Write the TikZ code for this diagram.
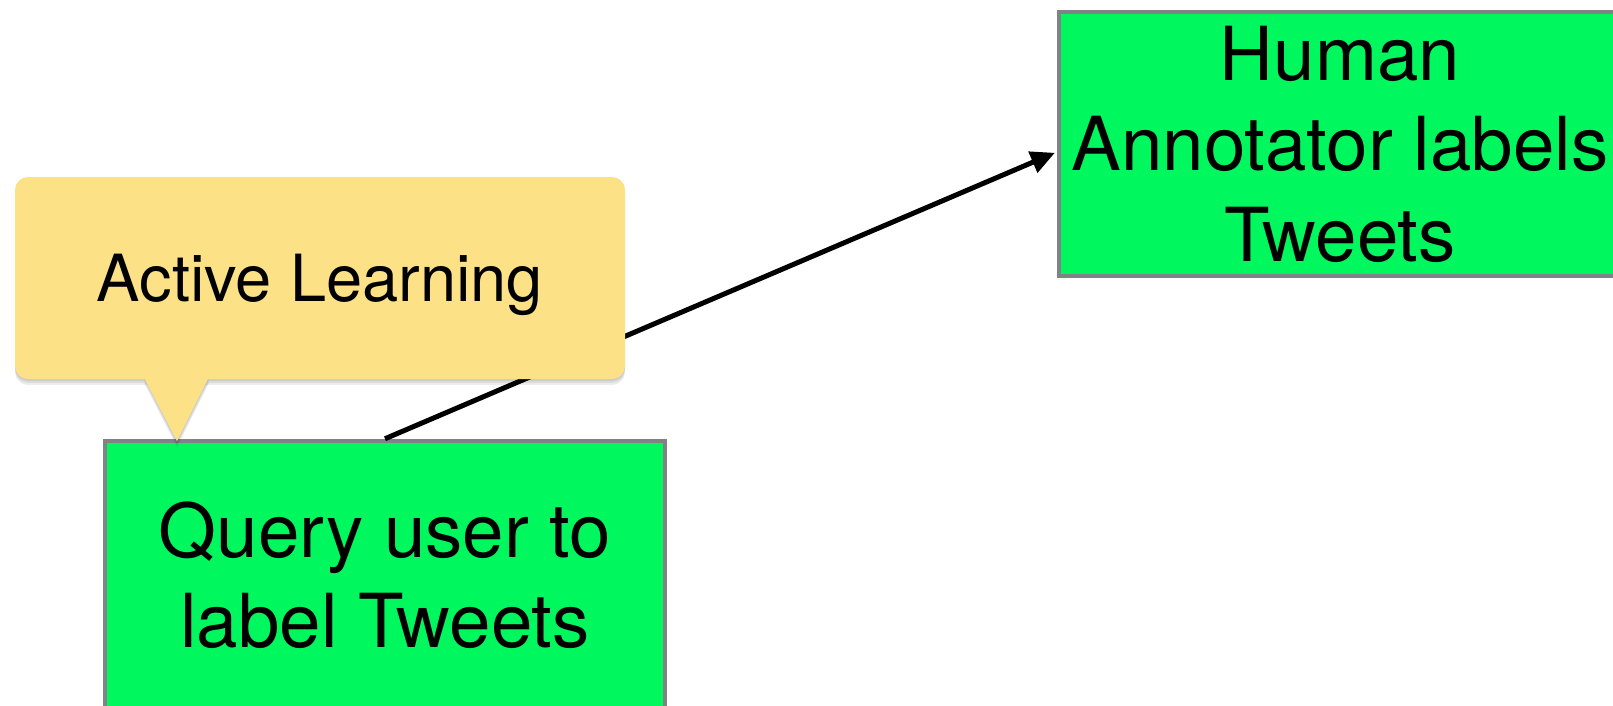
\documentclass[tikz,border=0pt]{standalone}
\usepackage{fontspec}
\setmainfont{TeX Gyre Heros}
\usetikzlibrary{arrows.meta,calc}
\definecolor{boxgreen}{RGB}{0,248,94}
\definecolor{boxgray}{RGB}{128,131,134}
\definecolor{noteyellow}{RGB}{252,225,134}
\begin{document}
\begin{tikzpicture}[x=1pt,y=-1pt,
  stepbox/.style={draw=boxgray,line width=4.5pt,fill=boxgreen,align=center,
    inner sep=0pt,font=\fontsize{74.5}{90.5}\selectfont},
  note/.style={fill=noteyellow,rounded corners=13pt,inner sep=0pt,
    font=\fontsize{65}{78}\selectfont,text height=47pt,text depth=0pt},
  notetail/.style={fill=noteyellow},
  noteshadow/.style={fill=black,opacity=0.07},
  link/.style={line width=5pt,-{Triangle[length=24pt,width=22pt]},shorten >=2pt}]
\useasboundingbox (0,0) rectangle (1613,705);
\clip (0,0) rectangle (1613,705);

% process boxes
\node[stepbox,minimum width=560pt,minimum height=268pt] (q) at (385,575) {Query user to\\label Tweets};
\node[stepbox,minimum width=562pt,minimum height=264pt] (h) at (1340,144) {Human\\Annotator labels\\Tweets};

% query -> annotator
\draw[link] (q.north) -- ($(h.west)+(0,8)$);

% callout: soft shadow, body and pointer
\coordinate (tip) at (177,441);
\foreach \s in {2,4,6}{
  \fill[noteshadow,rounded corners=13pt] (15,177+\s) rectangle (625,379+\s);
  \fill[noteshadow] (144,377+\s) -- (209,377+\s) -- (177,441+\s) -- cycle;
}
\node[note,minimum width=610pt,minimum height=202pt] (al) at (320,278) {Active Learning};
\fill[notetail] ($(al.south west)+(129,-2)$) -- ($(al.south west)+(194,-2)$) -- (tip) -- cycle;
\end{tikzpicture}
\end{document}
